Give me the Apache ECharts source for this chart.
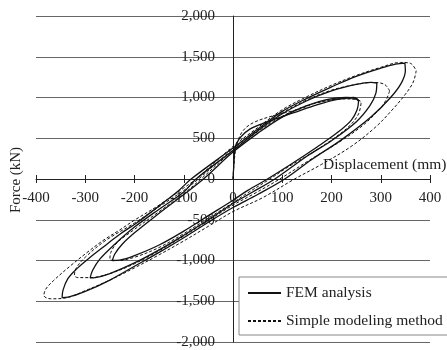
<!DOCTYPE html>
<html>
<head>
<meta charset="utf-8">
<script src="https://cdn.jsdelivr.net/npm/echarts@6/dist/echarts.min.js"></script>
<style>
  html, body { margin: 0; padding: 0; background: #fff; }
  #chart { width: 447px; height: 350px; }
</style>
</head>
<body>
<div id="chart"></div>
<script>
// axis ticks
const xTicks = [-400, -300, -200, -100, 0, 100, 200, 300, 400]
const yTicks = [-2000, -1500, -1000, -500, 0, 500, 1000, 1500, 2000]

// FEM analysis (solid), [displacement mm, force kN]
const femInitial = [[0, 0], [2, 200], [4, 380], [14, 505], [35, 615], [69, 700], [122, 810], [170, 910], [215, 980], [245, 1000], [255, 960]]
const femLoop1 = [
  [255, 960], [252, 850], [240, 720], [210, 560], [170, 390], [120, 190], [70, 0], [30, -140], [0, -260],
  [-50, -450], [-100, -640], [-150, -810], [-200, -940], [-230, -995], [-245, -1000],
  [-240, -920], [-225, -800], [-200, -660], [-150, -420], [-100, -190], [-60, 0], [0, 330], [50, 560],
  [100, 760], [150, 900], [190, 975], [230, 1000], [250, 990], [255, 960]
]
const femLoop2 = [
  [292, 1178], [290, 1050], [278, 900], [250, 700], [200, 470], [150, 280], [85, 0], [40, -160], [0, -300],
  [-50, -500], [-100, -690], [-150, -870], [-200, -1030], [-250, -1160], [-280, -1210], [-290, -1213],
  [-285, -1120], [-270, -980], [-240, -800], [-200, -590], [-150, -370], [-100, -160], [-75, 0], [0, 350],
  [50, 590], [100, 800], [150, 960], [200, 1080], [250, 1160], [280, 1185], [292, 1178]
]
const femLoop3 = [
  [349, 1423], [350, 1330], [342, 1180], [320, 1000], [280, 760], [220, 480], [160, 240], [105, 0], [50, -190],
  [0, -350], [-50, -530], [-100, -720], [-150, -900], [-200, -1070], [-250, -1240], [-300, -1380], [-335, -1450],
  [-347, -1455], [-345, -1360], [-335, -1220], [-317, -1100], [-290, -960], [-256, -800], [-229, -674],
  [-195, -536], [-150, -330], [-110, -140], [-85, 0], [0, 380], [50, 610], [100, 830], [150, 990],
  [200, 1130], [250, 1260], [300, 1360], [330, 1410], [349, 1423]
]

// Simple modeling method (dashed)
const simInitial = [[0, 0], [3, 250], [8, 430], [20, 590], [41, 690], [81, 775], [136, 860], [170, 935], [220, 985], [250, 975], [260, 930]]
const simLoop1 = [
  [260, 930], [255, 800], [238, 660], [205, 500], [160, 320], [110, 140], [75, 0], [30, -170], [0, -290],
  [-50, -480], [-100, -670], [-150, -840], [-200, -960], [-235, -1000], [-250, -990],
  [-248, -900], [-235, -780], [-205, -640], [-150, -400], [-100, -180], [-65, 0], [0, 350], [50, 580],
  [100, 770], [150, 900], [200, 970], [240, 985], [258, 960], [260, 930]
]
const simLoop2 = [
  [318, 1080], [310, 960], [292, 820], [262, 650], [215, 450], [155, 230], [95, 0], [40, -190], [0, -320],
  [-50, -510], [-100, -700], [-150, -880], [-200, -1040], [-250, -1160], [-290, -1210], [-315, -1210], [-322, -1180],
  [-318, -1090], [-300, -960], [-260, -760], [-200, -540], [-150, -340], [-100, -140], [-70, 0], [0, 370],
  [50, 600], [100, 810], [150, 970], [200, 1090], [250, 1160], [285, 1185], [308, 1160], [318, 1080]
]
const simLoop3 = [
  [372, 1330], [366, 1190], [350, 1040], [325, 860], [290, 640], [240, 400], [180, 180], [125, 0], [60, -230],
  [0, -400], [-50, -580], [-100, -760], [-150, -930], [-200, -1090], [-250, -1240], [-300, -1370], [-340, -1460],
  [-370, -1470], [-384, -1430], [-380, -1350], [-365, -1250], [-331, -1070], [-297, -905], [-264, -755],
  [-230, -625], [-200, -505], [-150, -320], [-100, -110], [-75, 0], [0, 400], [50, 630], [100, 850],
  [150, 1010], [200, 1150], [250, 1270], [300, 1370], [340, 1430], [360, 1420], [372, 1330]
]

const serif = 'Liberation Serif'

// plot box
const gridLeft = 36, gridRight = 17, gridTop = 16, gridBottom = 8
const plotW = 447 - gridLeft - gridRight
const plotH = 350 - gridTop - gridBottom
// pull the axes in from the grid edge to the zero lines
const xAxisShift = -plotH / 2
const yAxisShift = -plotW / 2

function curve(name, data, dashed) {
  return {
    name: name,
    type: 'line',
    data: data,
    symbol: 'none',
    smooth: 0.35,
    silent: true,
    itemStyle: { color: '#111' },
    lineStyle: {
      color: '#111',
      width: dashed ? 1 : 1.3,
      type: dashed ? [3, 2] : 'solid'
    }
  }
}

const chart = echarts.init(document.getElementById('chart'))
chart.setOption({
  animation: false,
  backgroundColor: '#fff',
  grid: { left: gridLeft, right: gridRight, top: gridTop, bottom: gridBottom, containLabel: false, outerBoundsMode: 'none' },
  legend: {
    orient: 'vertical',
    left: 239,
    top: 277,
    width: 207,
    padding: [8, 20, 6, 8],
    itemGap: 12,
    itemWidth: 33,
    itemHeight: 14,
    borderColor: '#888',
    borderWidth: 1,
    backgroundColor: '#fff',
    itemStyle: { opacity: 0 },
    textStyle: { fontFamily: serif, fontSize: 15.5, color: '#222' },
    data: ['FEM analysis', 'Simple modeling method']
  },
  xAxis: [
    {
      type: 'value',
      position: 'bottom',
      offset: xAxisShift,
      min: xTicks[0],
      max: xTicks[xTicks.length - 1],
      interval: 100,
      axisLine: { show: true, onZero: false, lineStyle: { color: '#222', width: 1 } },
      axisTick: { show: true, inside: true, length: 4, lineStyle: { color: '#222' } },
      axisLabel: { margin: 12, fontFamily: serif, fontSize: 15, color: '#222' },
      splitLine: { show: false }
    },
    {
      type: 'value',
      position: 'bottom',
      offset: xAxisShift,
      min: xTicks[0],
      max: xTicks[xTicks.length - 1],
      interval: 100,
      axisLine: { show: false, onZero: false },
      axisTick: { show: true, inside: false, length: 4, lineStyle: { color: '#222' } },
      axisLabel: { show: false },
      splitLine: { show: false }
    }
  ],
  yAxis: {
    type: 'value',
    position: 'left',
    offset: yAxisShift,
    min: yTicks[0],
    max: yTicks[yTicks.length - 1],
    interval: 500,
    axisLine: { show: true, onZero: false, lineStyle: { color: '#222', width: 1 } },
    axisTick: { show: false },
    axisLabel: {
      margin: 18,
      fontFamily: serif,
      fontSize: 15,
      color: '#222',
      formatter: v => v.toLocaleString('en-US')
    },
    splitLine: { show: true, lineStyle: { color: '#666', width: 1 } }
  },
  graphic: [
    {
      type: 'text',
      left: 323,
      top: 157,
      style: { text: 'Displacement (mm)', font: '15.5px "Liberation Serif"', fill: '#222' }
    },
    {
      type: 'text',
      x: 16,
      y: 180,
      rotation: Math.PI / 2,
      style: { text: 'Force (kN)', font: '15px "Liberation Serif"', fill: '#222', align: 'center', verticalAlign: 'middle' }
    }
  ],
  series: [
    curve('FEM analysis', femInitial, false),
    curve('FEM analysis', femLoop1, false),
    curve('FEM analysis', femLoop2, false),
    curve('FEM analysis', femLoop3, false),
    curve('Simple modeling method', simInitial, true),
    curve('Simple modeling method', simLoop1, true),
    curve('Simple modeling method', simLoop2, true),
    curve('Simple modeling method', simLoop3, true)
  ]
})
</script>
</body>
</html>
